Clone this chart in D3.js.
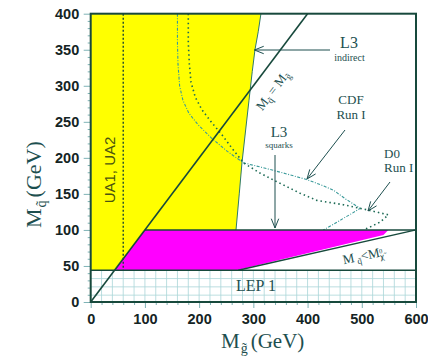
<!DOCTYPE html>
<html><head><meta charset="utf-8">
<script src="https://cdn.jsdelivr.net/npm/d3@7"></script>
<style>body{margin:0;background:#fff}svg{display:block}</style>
</head><body>
<svg id="c" width="428" height="358"></svg>
<script>
// Axis ranges and ticks (GeV)
const xDomain = [0, 600];
const yDomain = [0, 400];
const xTicks = [0, 100, 200, 300, 400, 500, 600];
const yTicks = [0, 50, 100, 150, 200, 250, 300, 350, 400];

// LEP 1 limit on the squark mass
const lepLimit = 44;
// UA1/UA2 gluino limit
const uaLimit = 60;

// L3 indirect limit: right edge of the yellow region [M_gluino, M_squark]
const l3Indirect = [[314,400],[309,375],[303,350],[298,320],[292,280],[286,240],[279,193],[274,150],[268,100]];

// L3 squark exclusion (magenta)
const l3Squarks = [[44,44],[100,100],[549,100],[540,93],[269,44]];

// CDF Run I contour
const cdfRun1 = [[160,400],[160,360],[161,330],[164,300],[170,280],[181,262],[198,246],[222,228],[252,209],[282,193],
  [320,186],[360,178],[398,170],[430,161],[448,155],[470,143],[497,130],[482,123],[466,116],[448,108],[429,100]];

// D0 Run I contour
const d0Run1 = [[180,400],[180,360],[182,330],[185,305],[193,284],[205,267],[220,252],[242,232],[262,212],[282,193],
  [312,179],[343,167],[362,160],[386,151],[417,141],[466,135],[509,128],[549,121],[534,111],[518,105],[503,100]];

// M_squark < M_neutralino boundary
const lspLine = [[272,44],[600,100]];

const svg = d3.select("#c");
const x = d3.scaleLinear().domain(xDomain).range([90.7, 416]);
const y = d3.scaleLinear().domain(yDomain).range([302, 13.7]);

const dark = "#17493c";
const ink = "#1d4f4f";
const gridCol = "#a9d6d8";
const line = d3.line().x(d => x(d[0])).y(d => y(d[1]));

// Yellow region: UA1/UA2 + L3 indirect
const yellow = [[0,lepLimit],[0,400]].concat(l3Indirect).concat([[100,100],[lepLimit,lepLimit]]);
svg.append("path").attr("d", line(yellow) + "Z").attr("fill", "#ffff00").attr("stroke", "none");
svg.append("path").attr("d", line(l3Indirect)).attr("fill", "none").attr("stroke", "#2f7a6a").attr("stroke-width", 1);

// Magenta region
svg.append("path").attr("d", line(l3Squarks) + "Z").attr("fill", "#ff00ff").attr("stroke", "none");

// LEP 1 grid
const lepG = svg.append("g");
lepG.append("rect").attr("x", x(0)).attr("y", y(lepLimit)).attr("width", x(600) - x(0)).attr("height", y(0) - y(lepLimit)).attr("fill", "#fff");
d3.range(20, 600, 20).forEach(v => {
  lepG.append("line").attr("x1", x(v)).attr("x2", x(v)).attr("y1", y(lepLimit)).attr("y2", y(0))
    .attr("stroke", gridCol).attr("stroke-width", 0.8);
});
[32.5, 21, 9.5].forEach(v => {
  lepG.append("line").attr("x1", x(0)).attr("x2", x(600)).attr("y1", y(v)).attr("y2", y(v))
    .attr("stroke", gridCol).attr("stroke-width", 0.8);
});

// Contours
svg.append("path").attr("d", line(cdfRun1)).attr("fill", "none").attr("stroke", "#3a9a9a")
  .attr("stroke-width", 1.1).attr("stroke-dasharray", "3,1.5,1,1.5");
svg.append("path").attr("d", line(d0Run1)).attr("fill", "none").attr("stroke", "#1c6a55")
  .attr("stroke-width", 1.6).attr("stroke-dasharray", "1.5,3");

// UA1/UA2 line
svg.append("line").attr("x1", x(uaLimit)).attr("x2", x(uaLimit)).attr("y1", y(400)).attr("y2", y(lepLimit))
  .attr("stroke", "#1c4a30").attr("stroke-width", 1.4).attr("stroke-dasharray", "2,2");

// Solid boundary lines
svg.append("path").attr("d", line([[0,0],[400,400]])).attr("stroke", dark).attr("stroke-width", 1.6).attr("fill", "none");
svg.append("path").attr("d", line([[100,100],[600,100]])).attr("stroke", dark).attr("stroke-width", 1.6).attr("fill", "none");
svg.append("path").attr("d", line([[0,lepLimit],[600,lepLimit]])).attr("stroke", dark).attr("stroke-width", 1.6).attr("fill", "none");
svg.append("path").attr("d", line(lspLine)).attr("stroke", dark).attr("stroke-width", 1.4).attr("fill", "none");

// Axes
const tickCol = "#7fb3b6";
const xAxis = d3.axisBottom(x).tickValues(xTicks).tickSize(6).tickFormat(d3.format("d"));
const gx = svg.append("g").attr("transform", `translate(0,${y(0)})`).call(xAxis);
const yAxis = d3.axisLeft(y).tickValues(yTicks).tickSize(7).tickFormat(d3.format("d"));
const gy = svg.append("g").attr("transform", `translate(${x(0)},0)`).call(yAxis);
[gx, gy].forEach(g => {
  g.select(".domain").remove();
  g.selectAll(".tick line").attr("stroke", tickCol).attr("stroke-width", 1);
  g.selectAll(".tick text").attr("fill", "#142424").attr("font-family", "Liberation Sans, Arial, sans-serif")
    .attr("font-weight", "bold").attr("font-size", 14.5);
});
gx.selectAll(".tick text").attr("dy", "0.92em");
gy.selectAll(".tick text").attr("dx", "-0.1em");
// minor ticks
svg.append("g").attr("transform", `translate(0,${y(0)})`)
  .call(d3.axisBottom(x).tickValues(d3.range(20, 600, 20).filter(v => v % 100)).tickSize(3).tickFormat(""))
  .call(g => { g.select(".domain").remove(); g.selectAll("line").attr("stroke", tickCol); });
svg.append("g").attr("transform", `translate(${x(0)},0)`)
  .call(d3.axisLeft(y).tickValues(d3.range(10, 400, 10).filter(v => v % 50)).tickSize(3).tickFormat(""))
  .call(g => { g.select(".domain").remove(); g.selectAll("line").attr("stroke", tickCol); });

// Frame
svg.append("rect").attr("x", x(0)).attr("y", y(400)).attr("width", x(600) - x(0)).attr("height", y(0) - y(400))
  .attr("fill", "none").attr("stroke", dark).attr("stroke-width", 2);

// Text
const serif = "Liberation Serif, Times New Roman, serif";
function txt(px, py, s, size, anchor, rot) {
  const t = svg.append("text").attr("x", px).attr("y", py).attr("font-family", serif).attr("font-size", size)
    .attr("fill", ink).attr("text-anchor", anchor || "middle").text(s);
  if (rot) t.attr("transform", `rotate(${rot},${px},${py})`);
  return t;
}
txt(349, 48, "L3", 16);
txt(349.5, 60.5, "indirect", 10);
txt(351, 103.5, "CDF", 13);
txt(351, 118.5, "Run I", 13);
txt(279, 136.5, "L3", 15);
txt(279, 147.5, "squarks", 9);
txt(384, 157.5, "D0", 13, "start");
txt(384, 172, "Run I", 13, "start");
txt(256, 291, "LEP 1", 16);

// UA1, UA2 label
svg.append("text").attr("transform", `translate(115,170) rotate(-90)`).attr("text-anchor", "middle")
  .attr("font-family", "Liberation Sans, Arial, sans-serif").attr("font-size", 15).attr("fill", "#4a5410").text("UA1, UA2");

// M_q = M_g along the diagonal
const dg = svg.append("text").attr("font-family", serif).attr("font-size", 13).attr("fill", ink)
  .attr("transform", `translate(276,93) rotate(-53)`).attr("text-anchor", "middle");
dg.append("tspan").text("M");
dg.append("tspan").attr("font-size", 9).attr("dy", 3).text("q\u0303");
dg.append("tspan").attr("dy", -3).text(" = M");
dg.append("tspan").attr("font-size", 9).attr("dy", 3).text("g\u0303");

// M_q < M_chi along the LSP line
const ls = svg.append("text").attr("font-family", serif).attr("font-size", 13).attr("fill", ink)
  .attr("transform", `translate(364,260) rotate(-12)`).attr("text-anchor", "middle");
ls.append("tspan").text("M");
ls.append("tspan").attr("font-size", 9).attr("dy", 3).text(" q\u0303");
ls.append("tspan").attr("dy", -3).text("<M");
ls.append("tspan").attr("font-size", 9).attr("dy", 3).text("\u03c7\u0303");
ls.append("tspan").attr("font-size", 6.5).attr("dy", -6).attr("dx", -4).text("0");
ls.append("tspan").attr("font-size", 6.5).attr("dy", 7).attr("dx", -3.5).text("1");

// Arrows
function arrow(x1, y1, x2, y2) {
  const a = Math.atan2(y2 - y1, x2 - x1), L = 10, w = 0.38;
  svg.append("line").attr("x1", x1).attr("y1", y1).attr("x2", x2).attr("y2", y2).attr("stroke", ink).attr("stroke-width", 1);
  svg.append("path").attr("d", `M${x2 - L * Math.cos(a - w)},${y2 - L * Math.sin(a - w)}L${x2},${y2}L${x2 - L * Math.cos(a + w)},${y2 - L * Math.sin(a + w)}`)
    .attr("fill", "none").attr("stroke", ink).attr("stroke-width", 1);
}
arrow(330, 50, x(302), 50);
arrow(345, 130, 307, 179);
arrow(275, 155, 275, 228);
arrow(390, 182, 368, 211);

// Axis titles
const xl = svg.append("text").attr("x", 221).attr("y", 348).attr("text-anchor", "start")
  .attr("font-family", serif).attr("font-size", 21).attr("fill", ink);
xl.append("tspan").text("M");
xl.append("tspan").attr("font-size", 14).attr("dy", 5).attr("dx", 1).text("g\u0303");
xl.append("tspan").attr("dy", -5).attr("dx", 3).text("(GeV)");
const yl = svg.append("text").attr("transform", "translate(41,228) rotate(-90)").attr("text-anchor", "start")
  .attr("font-family", serif).attr("font-size", 22).attr("fill", ink);
yl.append("tspan").text("M");
yl.append("tspan").attr("font-size", 14).attr("dy", 5).attr("dx", 1).text("q\u0303");
yl.append("tspan").attr("dy", -5).attr("dx", 3).text("(GeV)");
</script>
</body></html>
